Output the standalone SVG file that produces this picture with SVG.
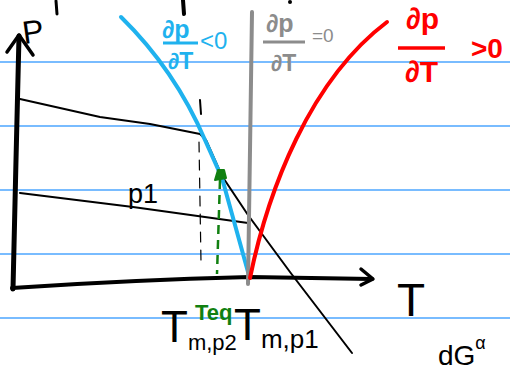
<svg xmlns="http://www.w3.org/2000/svg" width="510" height="373" viewBox="0 0 510 373">
<style>
.rule{stroke:#4da6ff;stroke-width:1.5}
.ink{fill:none;stroke:#000;stroke-linecap:round;stroke-linejoin:round}
.t{font-family:"Liberation Sans",Arial,sans-serif}
.blk{fill:#000}
.blu{fill:#1fb2ee}
.gry{fill:#8c8c8c}
.red{fill:#ff0000}
.grn{fill:#118011}
</style>
<rect width="510" height="373" fill="#fff"/>
<g id="ruling">
<line class="rule" x1="0" y1="62" x2="510" y2="62"/>
<line class="rule" x1="0" y1="126" x2="510" y2="126"/>
<line class="rule" x1="0" y1="190" x2="510" y2="190"/>
<line class="rule" x1="0" y1="254" x2="510" y2="254"/>
<line class="rule" x1="0" y1="318" x2="510" y2="318"/>
</g>
<g id="stray">
<line class="ink" x1="56" y1="1" x2="57" y2="14" stroke-width="3"/>
<line class="ink" x1="183" y1="0" x2="184" y2="14" stroke-width="4"/>
<circle cx="290" cy="2" r="2" fill="#000"/>
</g>
<g id="axes">
<path class="ink" d="M13,289 L16,160 L19,36" stroke-width="5"/>
<path class="ink" d="M7,52 L19,35 L33,55" stroke-width="3.5"/>
<path class="ink" d="M12,288 Q130,280 250,277 L372,279" stroke-width="4"/>
<path class="ink" d="M361,269 L373,279 L361,285" stroke-width="3.5"/>
</g>
<g id="connectors">
<path class="ink" d="M20,99 L100,117 L150,124 L200,134 L206,140 L214,158 L222,176 L248,215 L290,272 L352,353" stroke-width="2"/>
<path class="ink" d="M20,193 L133,207 L248,223" stroke-width="2.2"/>
<line class="ink" x1="200" y1="100" x2="201" y2="114" stroke-width="2"/>
<path class="ink" d="M199,142 L201,262" stroke-width="1.2" stroke-dasharray="10,8"/>
<path fill="none" stroke="#1fb2ee" stroke-width="4" stroke-linecap="round" d="M121,17 Q175,70 205,140 L222,178 L248,272"/>
<path fill="none" stroke="#8c8c8c" stroke-width="4" stroke-linecap="round" d="M252,12 L250,150 L248,284"/>
<path fill="none" stroke="#ff0000" stroke-width="4" stroke-linecap="round" d="M250,278 C268,190 310,80 387,22"/>
<path fill="none" stroke="#118011" stroke-width="2.5" stroke-dasharray="9,6" d="M220,180 L217,274"/>
<path d="M215,180 L218,170 L224,170 L226,178 Z" fill="#118011" stroke="#118011" stroke-width="2" stroke-linejoin="round"/>
</g>
<g id="labels">
<text class="t blk" x="22" y="43" font-size="32" transform="rotate(-8 30 30)">P</text>
<text class="t blk" x="128" y="203" font-size="27">p1</text>
<text class="t blu" x="162" y="38" font-size="25" font-weight="bold">∂p</text>
<line x1="163" y1="43" x2="198" y2="43" stroke="#1fb2ee" stroke-width="3"/>
<text class="t blu" x="168" y="69" font-size="23" font-weight="bold">∂T</text>
<text class="t blu" x="200" y="49" font-size="24">&lt;0</text>
<text class="t gry" x="266" y="32" font-size="25" font-weight="bold">∂p</text>
<line x1="263" y1="42" x2="305" y2="42" stroke="#8c8c8c" stroke-width="3"/>
<text class="t gry" x="271" y="71" font-size="23" font-weight="bold">∂T</text>
<text class="t gry" x="312" y="42" font-size="19">=0</text>
<text class="t red" x="406" y="29" font-size="30" font-weight="bold">∂p</text>
<line x1="398" y1="48" x2="445" y2="48" stroke="#ff0000" stroke-width="3.5"/>
<text class="t red" x="405" y="82" font-size="30" font-weight="bold">∂T</text>
<text class="t red" x="471" y="58" font-size="28" font-weight="bold">&gt;0</text>
<text class="t blk" x="397" y="316" font-size="46">T</text>
<text class="t blk" x="161" y="342" font-size="44">T<tspan font-size="22" dy="8">m,p2</tspan></text>
<text class="t grn" x="195" y="320" font-size="22" font-weight="bold">Teq</text>
<text class="t blk" x="234" y="340" font-size="44">T<tspan font-size="26" dy="8">m,p1</tspan></text>
<text class="t blk" x="438" y="365" font-size="28">dG<tspan font-size="18" dy="-16">α</tspan></text>
</g>
</svg>
